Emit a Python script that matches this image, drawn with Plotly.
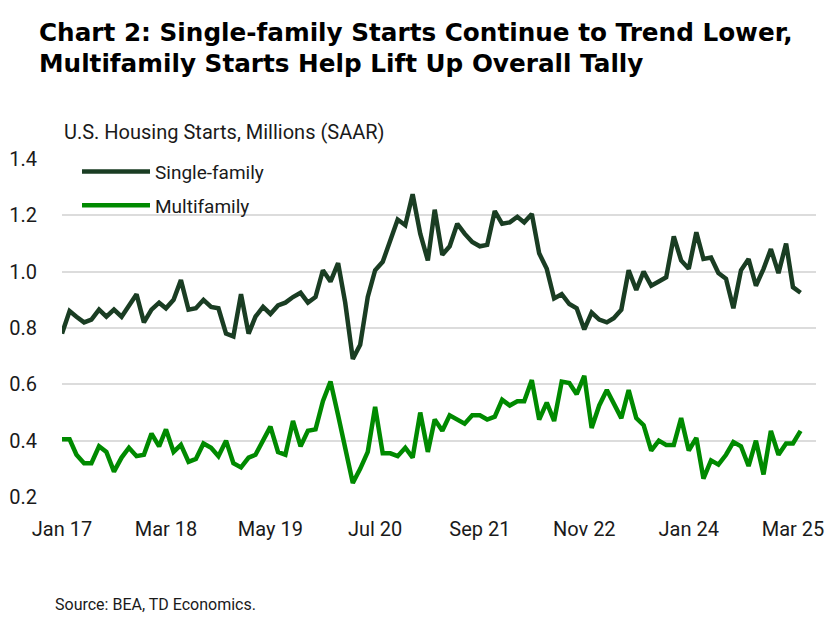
import pandas as pd
import plotly.graph_objects as go

# Monthly data, Jan 2017 - Apr 2025 (millions, SAAR)
months = pd.date_range("2017-01-01", periods=100, freq="MS")

single_family = [
    0.78, 0.86, 0.84, 0.82, 0.83, 0.865, 0.84, 0.865, 0.84, 0.88,
    0.92, 0.82, 0.865, 0.89, 0.87, 0.90, 0.97, 0.865, 0.87, 0.90,
    0.875, 0.87, 0.78, 0.77, 0.92, 0.78, 0.84, 0.875, 0.85, 0.88,
    0.89, 0.91, 0.925, 0.89, 0.91, 1.005, 0.965, 1.03, 0.89, 0.69,
    0.74, 0.91, 1.005, 1.035, 1.11, 1.185, 1.165, 1.275, 1.135, 1.04,
    1.22, 1.06, 1.09, 1.17, 1.135, 1.105, 1.09, 1.095, 1.215, 1.17,
    1.175, 1.195, 1.175, 1.205, 1.065, 1.01, 0.905, 0.92, 0.885, 0.87,
    0.795, 0.855, 0.83, 0.82, 0.835, 0.865, 1.005, 0.935, 1.00, 0.95,
    0.965, 0.98, 1.125, 1.04, 1.01, 1.14, 1.045, 1.05, 0.995, 0.975,
    0.87, 1.005, 1.045, 0.95, 1.01, 1.08, 0.995, 1.10, 0.945, 0.925,
]

multifamily = [
    0.405, 0.405, 0.35, 0.32, 0.32, 0.38, 0.36, 0.29, 0.34, 0.375,
    0.345, 0.35, 0.425, 0.38, 0.44, 0.36, 0.385, 0.325, 0.335, 0.39,
    0.375, 0.345, 0.40, 0.32, 0.305, 0.34, 0.35, 0.40, 0.45, 0.36,
    0.35, 0.47, 0.38, 0.435, 0.44, 0.54, 0.61, 0.49, 0.37, 0.25,
    0.30, 0.36, 0.52, 0.355, 0.355, 0.345, 0.375, 0.34, 0.50, 0.36,
    0.475, 0.435, 0.49, 0.475, 0.46, 0.49, 0.49, 0.475, 0.485, 0.545,
    0.525, 0.54, 0.54, 0.615, 0.475, 0.535, 0.47, 0.61, 0.605, 0.565,
    0.63, 0.445, 0.525, 0.58, 0.53, 0.48, 0.58, 0.48, 0.455, 0.365,
    0.40, 0.385, 0.385, 0.48, 0.365, 0.41, 0.265, 0.33, 0.315, 0.35,
    0.395, 0.38, 0.31, 0.40, 0.28, 0.435, 0.35, 0.39, 0.39, 0.435,
]

tick_positions = [0, 14, 28, 42, 56, 70, 84, 98]
tick_labels = ["Jan 17", "Mar 18", "May 19", "Jul 20", "Sep 21", "Nov 22", "Jan 24", "Mar 25"]

DARK = "#1a3d23"
GREEN = "#008a00"
FONT = "Roboto"
TITLE_FONT = "DejaVu Sans"

fig = go.Figure()
fig.add_trace(go.Scatter(x=months, y=single_family, mode="lines", name="Single-family",
                         line=dict(color=DARK, width=4.5), legendgroup="a"))
fig.add_trace(go.Scatter(x=months, y=multifamily, mode="lines", name="Multifamily",
                         line=dict(color=GREEN, width=4.5), legendgroup="b"))

L, R, T, B = 62, 816, 159.3, 497.3
W, H = 827, 617


def px_x(p):
    return (p - L) / (R - L)


def px_y(p):
    return (B - p) / (B - T)


fig.update_layout(
    width=W, height=H,
    margin=dict(l=L, r=W - R, t=T, b=H - B, autoexpand=False),
    paper_bgcolor="white", plot_bgcolor="white",
    font=dict(family=FONT, color="#1a1a1a", size=19),
    showlegend=True,
    legend=dict(x=px_x(77), y=px_y(153), xanchor="left", yanchor="top",
                bgcolor="rgba(0,0,0,0)", font=dict(size=19, family=FONT, color="#1a1a1a"),
                tracegroupgap=6, itemwidth=68, traceorder="grouped"),
    xaxis=dict(
        type="date",
        range=["2017-01-01", "2025-06-03"],
        tickvals=[months[i] for i in tick_positions],
        ticktext=tick_labels,
        showgrid=False, zeroline=False, showline=False, automargin=False,
        ticks="", tickfont=dict(size=20, family=FONT, color="#1a1a1a"),
        ticklabelstandoff=18,
    ),
    yaxis=dict(
        range=[0.2, 1.4], dtick=0.2, tick0=0.2, tickformat=".1f",
        showgrid=True, gridcolor="#dcdcdc", gridwidth=2, automargin=False,
        zeroline=False, showline=False, ticks="",
        tickfont=dict(size=20, family=FONT, color="#1a1a1a"),
        ticklabelstandoff=24,
    ),
    annotations=[
        dict(text="<b>Chart 2: Single-family Starts Continue to Trend Lower,</b>",
             xref="paper", yref="paper", x=px_x(37), y=px_y(32.5),
             xanchor="left", yanchor="middle", showarrow=False,
             font=dict(size=24.7, family=TITLE_FONT, color="#000000")),
        dict(text="<b>Multifamily Starts Help Lift Up Overall Tally</b>",
             xref="paper", yref="paper", x=px_x(37), y=px_y(64),
             xanchor="left", yanchor="middle", showarrow=False,
             font=dict(size=24.7, family=TITLE_FONT, color="#000000")),
        dict(text="U.S. Housing Starts, Millions (SAAR)",
             xref="paper", yref="paper", x=px_x(62), y=px_y(132.5),
             xanchor="left", yanchor="middle", showarrow=False,
             font=dict(size=20, family=FONT, color="#1a1a1a")),
        dict(text="Source: BEA, TD Economics.",
             xref="paper", yref="paper", x=px_x(53), y=px_y(605),
             xanchor="left", yanchor="middle", showarrow=False,
             font=dict(size=16, family=FONT, color="#1a1a1a")),
    ],
)

fig.write_html("out.html",
               config={"displayModeBar": False},
               post_script="document.body.style.margin='0';document.body.style.overflow='hidden';")
